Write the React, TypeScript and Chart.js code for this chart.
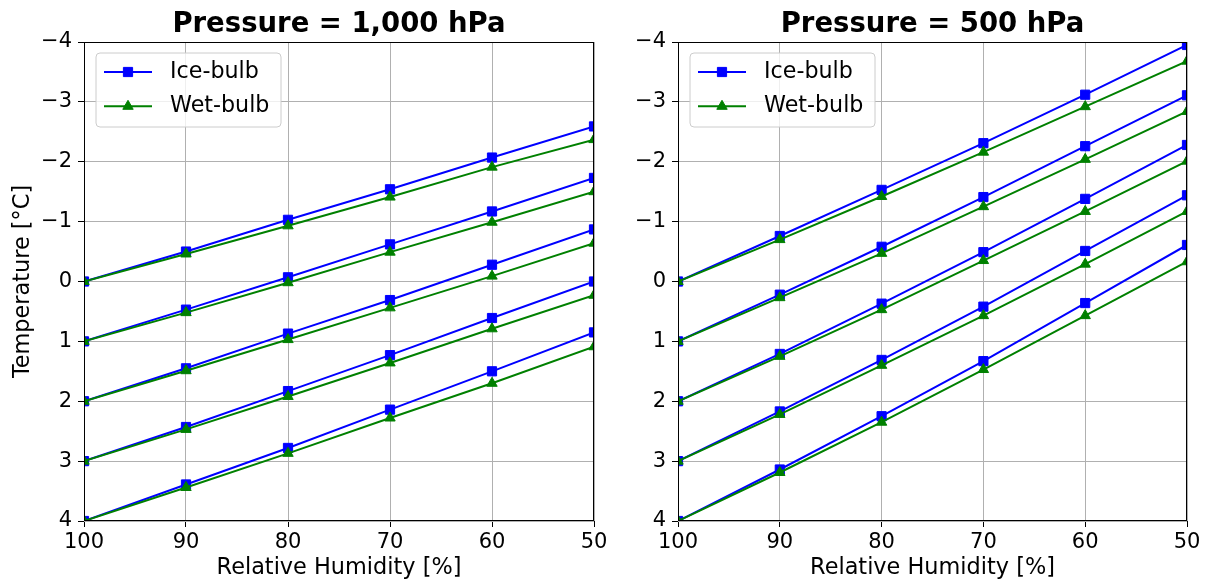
import React, { useEffect, useRef } from 'react';
import { Chart, registerables } from 'chart.js';

Chart.register(...registerables);

// ---------- data ----------
const RH = [100, 90, 80, 70, 60, 50];
const X_TICKS = [100, 90, 80, 70, 60, 50];
const Y_TICKS = [-4, -3, -2, -1, 0, 1, 2, 3, 4];
const SERIES = ['Ice-bulb', 'Wet-bulb'];
const TITLES = ['Pressure = 1,000 hPa', 'Pressure = 500 hPa'];
const X_LABEL = 'Relative Humidity [%]';
const Y_LABEL = 'Temperature [°C]';

// one row per starting temperature (0,1,2,3,4 °C at 100 %)
const ICE_1000 = [
  [0, -0.5, -1.03, -1.54, -2.07, -2.59],
  [1, 0.47, -0.07, -0.62, -1.17, -1.73],
  [2, 1.45, 0.87, 0.31, -0.28, -0.87],
  [3, 2.43, 1.83, 1.23, 0.61, 0.0],
  [4, 3.39, 2.78, 2.14, 1.5, 0.85],
];
const WET_1000 = [
  [0, -0.46, -0.93, -1.41, -1.91, -2.37],
  [1, 0.52, 0.02, -0.49, -0.99, -1.5],
  [2, 1.49, 0.97, 0.44, -0.09, -0.64],
  [3, 2.47, 1.92, 1.36, 0.79, 0.23],
  [4, 3.44, 2.87, 2.28, 1.7, 1.09],
];
const ICE_500 = [
  [0, -0.76, -1.53, -2.31, -3.12, -3.95],
  [1, 0.22, -0.58, -1.41, -2.26, -3.11],
  [2, 1.21, 0.37, -0.49, -1.38, -2.28],
  [3, 2.17, 1.31, 0.42, -0.51, -1.44],
  [4, 3.14, 2.25, 1.33, 0.36, -0.61],
];
const WET_500 = [
  [0, -0.7, -1.42, -2.16, -2.92, -3.68],
  [1, 0.27, -0.47, -1.25, -2.04, -2.84],
  [2, 1.25, 0.47, -0.35, -1.17, -2.01],
  [3, 2.22, 1.4, 0.57, -0.29, -1.17],
  [4, 3.19, 2.35, 1.47, 0.57, -0.33],
];

// ---------- style ----------
const FONT = "'DejaVu Sans', 'Liberation Sans', sans-serif";
const BLUE = '#0000ff';
const GREEN = '#008000';
const GRID = '#b0b0b0';
const LINE_W = 2;

const fmtY = (v: number) => (v < 0 ? '\u2212' + Math.abs(v) : String(v));

function drawMarker(ctx: CanvasRenderingContext2D, style: string, x: number, y: number, color: string) {
  ctx.save();
  ctx.fillStyle = color;
  ctx.strokeStyle = color;
  ctx.lineWidth = 1;
  ctx.beginPath();
  if (style === 'rect') {
    const s = 6.5 * Math.SQRT1_2;
    ctx.rect(x - s, y - s, 2 * s, 2 * s);
  } else {
    const r = 6;
    ctx.moveTo(x, y - r);
    ctx.lineTo(x + r * Math.sin(2 * Math.PI / 3), y + r / 2);
    ctx.lineTo(x - r * Math.sin(2 * Math.PI / 3), y + r / 2);
    ctx.closePath();
  }
  ctx.fill();
  ctx.stroke();
  ctx.restore();
}

type PanelProps = {
  ice: number[][];
  wet: number[][];
  title: string;
  showYTitle: boolean;
  left: number;
  width: number;
  yWidth: number;
  padRight: number;
};

function Panel({ ice, wet, title, showYTitle, left, width, yWidth, padRight }: PanelProps) {
  const ref = useRef<HTMLCanvasElement | null>(null);

  useEffect(() => {
    if (!ref.current) return;
    const datasets: any[] = [];
    ice.forEach((vals) => {
      datasets.push({
        label: SERIES[0],
        data: RH.map((x, j) => ({ x, y: vals[j] })),
        borderColor: BLUE,
        backgroundColor: BLUE,
        pointBackgroundColor: BLUE,
        pointBorderColor: BLUE,
        pointStyle: 'rect',
        pointRadius: 6.5,
        pointBorderWidth: 1,
        borderWidth: LINE_W,
        tension: 0,
        order: 1,
      });
    });
    wet.forEach((vals) => {
      datasets.push({
        label: SERIES[1],
        data: RH.map((x, j) => ({ x, y: vals[j] })),
        borderColor: GREEN,
        backgroundColor: GREEN,
        pointBackgroundColor: GREEN,
        pointBorderColor: GREEN,
        pointStyle: 'triangle',
        pointRadius: 6,
        pointBorderWidth: 1,
        borderWidth: LINE_W,
        tension: 0,
        order: 0,
      });
    });

    const framePlugin = {
      id: 'frame',
      afterDatasetsDraw(chart: any) {
        const { ctx, chartArea: a } = chart;
        ctx.save();
        ctx.strokeStyle = '#000';
        ctx.lineWidth = 1;
        const l = Math.round(a.left) + 0.5;
        const t = Math.round(a.top) + 0.5;
        const r = Math.round(a.right) - 0.5;
        const b = Math.round(a.bottom) - 0.5;
        ctx.strokeRect(l, t, r - l, b - t);
        ctx.restore();
      },
    };

    const titlePlugin = {
      id: 'panelTitle',
      afterDraw(chart: any) {
        const { ctx, chartArea: a } = chart;
        ctx.save();
        ctx.font = `bold 27.5px ${FONT}`;
        ctx.fillStyle = '#000';
        ctx.textAlign = 'center';
        ctx.textBaseline = 'alphabetic';
        ctx.fillText(title, (a.left + a.right) / 2, 32);
        ctx.restore();
      },
    };

    const legendPlugin = {
      id: 'innerLegend',
      afterDraw(chart: any) {
        const { ctx, chartArea: a } = chart;
        const bx = a.left + 12;
        const by = a.top + 11;
        const bw = 185;
        const bh = 74;
        ctx.save();
        ctx.beginPath();
        const rr = 4;
        ctx.moveTo(bx + rr, by);
        ctx.lineTo(bx + bw - rr, by);
        ctx.quadraticCurveTo(bx + bw, by, bx + bw, by + rr);
        ctx.lineTo(bx + bw, by + bh - rr);
        ctx.quadraticCurveTo(bx + bw, by + bh, bx + bw - rr, by + bh);
        ctx.lineTo(bx + rr, by + bh);
        ctx.quadraticCurveTo(bx, by + bh, bx, by + bh - rr);
        ctx.lineTo(bx, by + rr);
        ctx.quadraticCurveTo(bx, by, bx + rr, by);
        ctx.closePath();
        ctx.fillStyle = 'rgba(255,255,255,0.8)';
        ctx.fill();
        ctx.strokeStyle = '#cccccc';
        ctx.lineWidth = 1;
        ctx.stroke();

        const rows = [
          { label: SERIES[0], color: BLUE, style: 'rect' },
          { label: SERIES[1], color: GREEN, style: 'triangle' },
        ];
        rows.forEach((row, i) => {
          const cy = a.top + 30 + i * 34.3;
          ctx.strokeStyle = row.color;
          ctx.lineWidth = LINE_W;
          ctx.beginPath();
          ctx.moveTo(a.left + 20, cy);
          ctx.lineTo(a.left + 68, cy);
          ctx.stroke();
          drawMarker(ctx, row.style, a.left + 44, cy, row.color);
          ctx.font = `22.2px ${FONT}`;
          ctx.fillStyle = '#000';
          ctx.textAlign = 'left';
          ctx.textBaseline = 'middle';
          ctx.fillText(row.label, a.left + 86, cy);
        });
        ctx.restore();
      },
    };

    const gridOpts = {
      color: GRID,
      lineWidth: 1,
      tickColor: '#000',
      tickLength: 6,
      drawTicks: true,
    };

    const chart = new Chart(ref.current, {
      type: 'line',
      data: { datasets },
      options: {
        animation: false,
        responsive: false,
        devicePixelRatio: 1,
        events: [],
        layout: { padding: { top: 42, right: padRight, left: 0, bottom: 0 } },
        plugins: {
          legend: { display: false },
          tooltip: { enabled: false },
          title: { display: false },
        },
        scales: {
          x: {
            type: 'linear',
            min: 50,
            max: 100,
            reverse: true,
            afterFit: (s: any) => {
              s.height = 61;
            },
            afterBuildTicks: (s: any) => {
              s.ticks = X_TICKS.map((v) => ({ value: v }));
            },
            ticks: {
              color: '#000',
              font: { size: 21, family: FONT },
              padding: 3,
              maxRotation: 0,
              autoSkip: false,
              callback: (v: any) => String(v),
            },
            grid: gridOpts,
            border: { display: false },
            title: {
              display: true,
              text: X_LABEL,
              color: '#000',
              font: { size: 22.4, family: FONT },
              padding: { top: 0, bottom: 0 },
            },
          },
          y: {
            type: 'linear',
            min: -4,
            max: 4,
            reverse: true,
            afterFit: (s: any) => {
              s.width = yWidth;
            },
            afterBuildTicks: (s: any) => {
              s.ticks = Y_TICKS.map((v) => ({ value: v }));
            },
            ticks: {
              color: '#000',
              font: { size: 21, family: FONT },
              padding: 6,
              autoSkip: false,
              callback: (v: any) => fmtY(Number(v)),
            },
            grid: gridOpts,
            border: { display: false },
            title: {
              display: showYTitle,
              text: Y_LABEL,
              color: '#000',
              font: { size: 22.4, family: FONT },
              padding: { top: 10, bottom: 0 },
            },
          },
        },
      } as any,
      plugins: [framePlugin, titlePlugin, legendPlugin],
    });
    return () => chart.destroy();
  }, [ice, wet, title, showYTitle, yWidth, padRight]);

  return (
    <canvas
      ref={ref}
      width={width}
      height={582}
      style={{ position: 'absolute', left, top: 0, width, height: 582 }}
    />
  );
}

export default function App() {
  return (
    <div
      style={{
        position: 'fixed',
        left: 0,
        top: 0,
        width: 1208,
        height: 582,
        background: '#fff',
        overflow: 'hidden',
      }}
    >
      <Panel ice={ICE_1000} wet={WET_1000} title={TITLES[0]} showYTitle={true} left={0} width={620} yWidth={84} padRight={26} />
      <Panel ice={ICE_500} wet={WET_500} title={TITLES[1]} showYTitle={false} left={620} width={588} yWidth={58} padRight={21} />
    </div>
  );
}
